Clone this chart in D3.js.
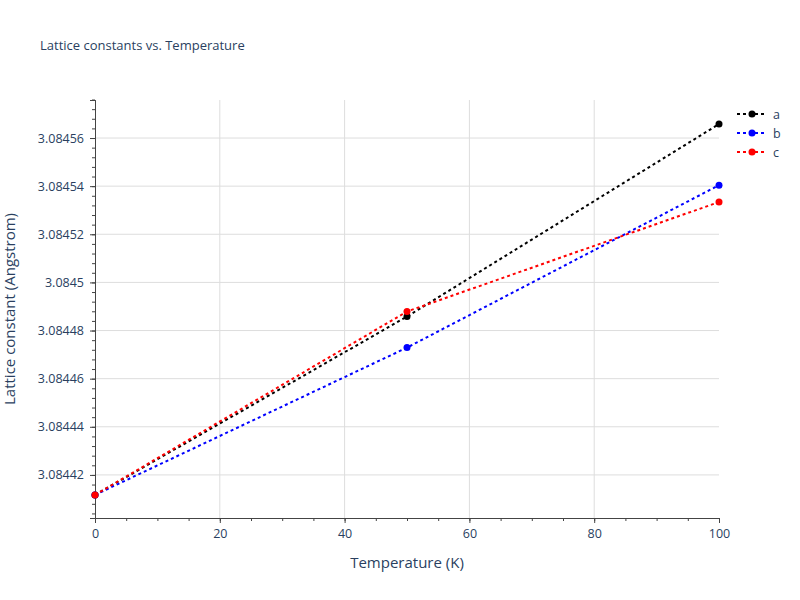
<!DOCTYPE html>
<html><head><meta charset="utf-8">
<script src="https://cdn.jsdelivr.net/npm/d3@7"></script>
<style>body{margin:0;background:#fff;font-family:"Open Sans",sans-serif}</style>
</head><body><div id="chart"></div>
<script>
var temps = [0, 50, 100];
var aVals = [3.0844117, 3.0844858, 3.0845658];
var bVals = [3.0844117, 3.0844729, 3.0845404];
var cVals = [3.0844117, 3.0844879, 3.0845334];
var yTicks = [3.08442, 3.08444, 3.08446, 3.08448, 3.0845, 3.08452, 3.08454, 3.08456];
var seriesNames = ["a", "b", "c"];
var colors = ["black", "blue", "red"];

var margin = {left: 95, right: 81, top: 100, bottom: 82};
var width = 800, height = 600;
var w = width - margin.left - margin.right, h = height - margin.top - margin.bottom;

var svg = d3.select("#chart").append("svg").attr("width", width).attr("height", height);
var g = svg.append("g").attr("transform", `translate(${margin.left}, ${margin.top})`);

var x = d3.scaleLinear().domain([0, 100]).range([0, w]);
var y = d3.scaleLinear().domain([3.0844021, 3.0845758]).range([h, 0]);

// grid
g.selectAll(".xg").data([20, 40, 60, 80]).enter().append("line")
    .attr("x1", d => x(d)).attr("x2", d => x(d)).attr("y1", 0).attr("y2", h)
    .attr("stroke", "#ddd");
g.selectAll(".yg").data(yTicks).enter().append("line")
    .attr("x1", 0).attr("x2", w).attr("y1", d => y(d)).attr("y2", d => y(d))
    .attr("stroke", "#ddd");

// axes
g.append("g").attr("transform", `translate(0, ${h})`)
    .call(d3.axisBottom(x).tickValues([0, 20, 40, 60, 80, 100]).tickSize(5).tickPadding(6));
g.append("g").attr("transform", `translate(0, ${h})`)
    .call(d3.axisBottom(x).tickValues(d3.range(0, 101, 5)).tickSize(3).tickFormat(""));
g.append("g")
    .call(d3.axisLeft(y).tickValues(yTicks).tickSize(5).tickPadding(6).tickFormat(d => String(+d.toFixed(5))));
g.append("g")
    .call(d3.axisLeft(y).tickValues(d3.range(3.084404, 3.084576, 0.000004)).tickSize(3).tickFormat(""));
g.selectAll(".domain").attr("stroke", "#444");
g.selectAll(".tick line").attr("stroke", "#444");
g.selectAll(".tick text").attr("fill", "#2a3f5f").style("font-size", "12.5px").style("font-family", "Open Sans");

// lines
var series = [aVals, bVals, cVals];
var line = d3.line().x((d, i) => x(temps[i])).y(d => y(d));
series.forEach(function(vals, k) {
    g.append("path").datum(vals).attr("d", line).attr("fill", "none")
        .attr("stroke", colors[k]).attr("stroke-width", 2).attr("stroke-dasharray", "3,3");
    g.selectAll(".p" + k).data(vals).enter().append("circle")
        .attr("cx", (d, i) => x(temps[i])).attr("cy", d => y(d)).attr("r", 3.5)
        .attr("fill", colors[k]);
});

// legend
var leg = svg.append("g").attr("transform", "translate(737, 114)");
seriesNames.forEach(function(n, k) {
    var r = leg.append("g").attr("transform", `translate(0, ${k * 19})`);
    r.append("line").attr("x1", 0).attr("x2", 30).attr("stroke", colors[k])
        .attr("stroke-width", 2).attr("stroke-dasharray", "3,3");
    r.append("circle").attr("cx", 15).attr("r", 3.5).attr("fill", colors[k]);
    r.append("text").attr("x", 36).attr("y", 4.5).text(n)
        .style("font-size", "12.5px").attr("fill", "#2a3f5f");
});

svg.append("text").attr("x", 40).attr("y", 50).text("Lattice constants vs. Temperature")
    .style("font-size", "13px").attr("fill", "#2a3f5f");
svg.append("text").attr("x", margin.left + w / 2).attr("y", 568).attr("text-anchor", "middle")
    .text("Temperature (K)").style("font-size", "15px").attr("fill", "#2a3f5f");
svg.append("text").attr("transform", `translate(15, ${margin.top + h / 2}) rotate(-90)`)
    .attr("text-anchor", "middle").text("Lattice constant (Angstrom)")
    .style("font-size", "15px").attr("fill", "#2a3f5f");
</script></body></html>
